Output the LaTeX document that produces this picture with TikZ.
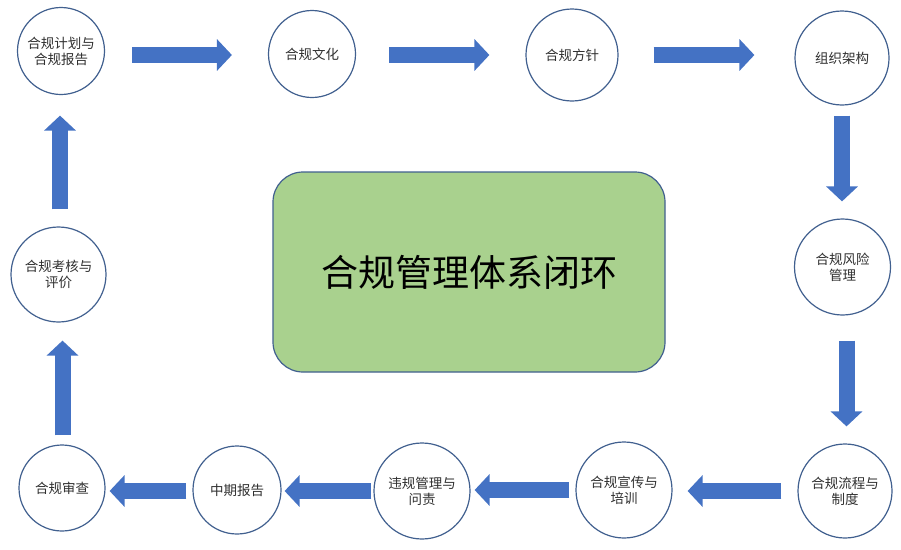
\documentclass[tikz,border=0pt]{standalone}
\usepackage{fontspec}
\newfontfamily\cjk{Noto Sans CJK SC}
\usetikzlibrary{arrows.meta,calc}
\definecolor{arrowblue}{HTML}{4472C4}
\definecolor{ringline}{HTML}{41608F}
\definecolor{boxgreen}{HTML}{A9D18E}
\definecolor{labeltext}{HTML}{303030}
\begin{document}
\begin{tikzpicture}[x=1pt,y=-1pt,
  ring/.style={circle,draw=ringline,line width=1.2pt,fill=white,inner sep=0pt,
    align=center,text=labeltext,font=\cjk\fontsize{13.5}{16}\selectfont},
  barrow/.style={line width=16pt,draw=arrowblue,
    -{Triangle[width=31pt 0 0,length=15pt 0 0]}},
  centerbox/.style={rectangle,rounded corners=30pt,draw=ringline,line width=1.2pt,
    fill=boxgreen,minimum width=392pt,minimum height=200pt,
    font=\cjk\fontsize{37}{40}\selectfont,text=black}]
\useasboundingbox[fill=white] (0,0) rectangle (901,549);

\node[centerbox] (core) at (469,272) {合规管理体系闭环};

\node[ring,minimum size=87pt] (c1) at (61,51) {合规计划与\\合规报告};
\node[ring,minimum size=87pt] (c2) at (312,54) {合规文化};
\node[ring,minimum size=92pt] (c3) at (572,55) {合规方针};
\node[ring,minimum size=94pt] (c4) at (842,58) {组织架构};
\node[ring,minimum size=96pt] (c5) at (842.5,267) {合规风险\\管理};
\node[ring,minimum size=94pt] (c6) at (845,491) {合规流程与\\制度};
\node[ring,minimum size=96pt] (c7) at (624,490) {合规宣传与\\培训};
\node[ring,minimum size=96pt] (c8) at (422,491) {违规管理与\\问责};
\node[ring,minimum size=88pt] (c9) at (237,490) {中期报告};
\node[ring,minimum size=86pt] (c10) at (62,488) {合规审查};
\node[ring,minimum size=95pt] (c11) at (58.5,274.5) {合规考核与\\评价};

% arrow start points (s) and tip points (t)
\coordinate (s1) at ($(c1.east)+(27,4)$);   \coordinate (t1) at ($(c2.west)+(-36,0)$);
\coordinate (s2) at ($(c2.east)+(33,1)$);   \coordinate (t2) at ($(c3.west)+(-36,0)$);
\coordinate (s3) at ($(c3.east)+(35,0)$);   \coordinate (t3) at ($(c4.west)+(-40,0)$);
\coordinate (s4) at ($(c4.south)+(0,10)$);  \coordinate (t4) at ($(c5.north)+(0,-17)$);
\coordinate (s5) at ($(c5.south)+(4,25)$);  \coordinate (t5) at ($(c6.north)+(0,-17)$);
\coordinate (s6) at ($(c6.west)+(-16,0)$);  \coordinate (t6) at ($(c7.east)+(15,0)$);
\coordinate (s7) at ($(c7.west)+(-6,0)$);   \coordinate (t7) at ($(c8.east)+(4,0)$);
\coordinate (s8) at ($(c8.west)+(-2,0)$);   \coordinate (t8) at ($(c9.east)+(3,0)$);
\coordinate (s9) at ($(c9.west)+(-6,1)$);   \coordinate (t9) at ($(c10.east)+(4,0)$);
\coordinate (s10) at ($(c10.north)+(0.5,-9)$); \coordinate (t10) at ($(c11.south)+(0,18)$);
\coordinate (s11) at ($(c11.north)+(1.5,-17)$); \coordinate (t11) at ($(c1.south)+(0,20.5)$);

\draw[barrow] (s1) -- (t1 |- s1);
\draw[barrow] (s2) -- (t2 |- s2);
\draw[barrow] (s3) -- (t3 |- s3);
\draw[barrow] (s4) -- (s4 |- t4);
\draw[barrow] (s5) -- (s5 |- t5);
\draw[barrow] (s6) -- (t6 |- s6);
\draw[barrow] (s7) -- (t7 |- s7);
\draw[barrow] (s8) -- (t8 |- s8);
\draw[barrow] (s9) -- (t9 |- s9);
\draw[barrow] (s10) -- (s10 |- t10);
\draw[barrow] (s11) -- (s11 |- t11);
\end{tikzpicture}
\end{document}
